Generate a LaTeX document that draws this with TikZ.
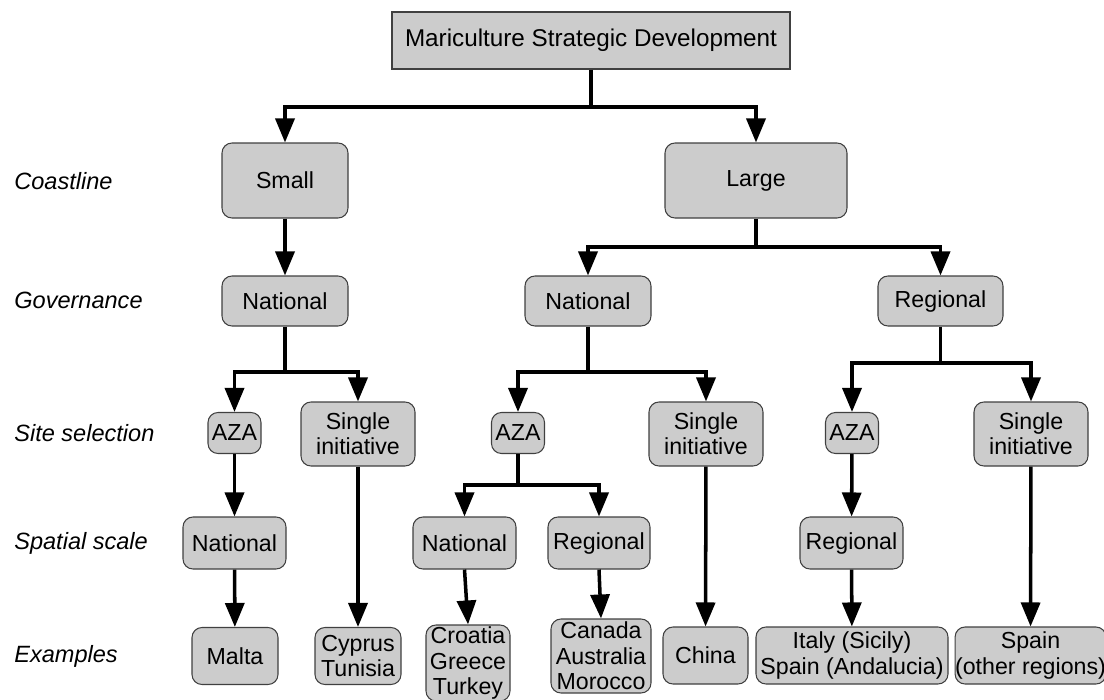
\documentclass[tikz,border=0pt]{standalone}
\usepackage{fontspec}
\setmainfont{Liberation Sans}
\usetikzlibrary{arrows.meta}

\begin{document}
\begin{tikzpicture}[font=\fontsize{13.2}{14.4}\selectfont,
  box/.style={draw=black!75,fill=black!20,line width=0.6pt,
    rounded corners=0.2cm,align=center,inner sep=0pt},
  topbox/.style={box,rounded corners=0pt,line width=0.8pt},
  arr/.style={line width=2pt,-{Triangle[width=0.38cm,length=0.48cm]}},
  lbl/.style={anchor=west,inner sep=0pt,font=\fontsize{13.4}{15}\selectfont\itshape}]
\useasboundingbox (0,0) rectangle (22.08,-14);
% row labels
\node[lbl] (lcoast) at (0.28,-3.62) {Coastline};
\node[lbl] (lgov)   at (0.28,-6.00) {Governance};
\node[lbl] (lsite)  at (0.28,-8.66) {Site selection};
\node[lbl] (lscale) at (0.28,-10.86) {Spatial scale};
\node[lbl] (lex)    at (0.28,-13.12) {Examples};
% boxes
\node[topbox,minimum width=7.96cm,minimum height=1.14cm,
      font=\fontsize{13.8}{15}\selectfont] (msd) at (11.82,-0.81)
     {Mariculture Strategic Development};
\node[box,minimum width=2.52cm,minimum height=1.5cm] (small) at (5.70,-3.61) {Small};
\node[box,minimum width=3.64cm,minimum height=1.5cm] (large) at (15.12,-3.61) {Large};
\node[box,minimum width=2.52cm,minimum height=1cm] (gnat1) at (5.70,-6.02) {National};
\node[box,minimum width=2.52cm,minimum height=1cm] (gnat2) at (11.76,-6.02) {National};
\node[box,minimum width=2.50cm,minimum height=1cm] (greg) at (18.81,-6.02) {Regional};
\node[box,minimum width=1.06cm,minimum height=0.82cm] (aza1) at (4.69,-8.66) {AZA};
\node[box,minimum width=2.28cm,minimum height=1.28cm] (single1) at (7.16,-8.68) {Single\\initiative};
\node[box,minimum width=1.06cm,minimum height=0.82cm] (aza2) at (10.36,-8.66) {AZA};
\node[box,minimum width=2.28cm,minimum height=1.28cm] (single2) at (14.12,-8.68) {Single\\initiative};
\node[box,minimum width=1.06cm,minimum height=0.82cm] (aza3) at (17.04,-8.66) {AZA};
\node[box,minimum width=2.28cm,minimum height=1.28cm] (single3) at (20.62,-8.68) {Single\\initiative};
\node[box,minimum width=2.06cm,minimum height=1.04cm] (snat1) at (4.69,-10.86) {National};
\node[box,minimum width=2.06cm,minimum height=1.04cm] (snat2) at (9.29,-10.86) {National};
\node[box,minimum width=2.04cm,minimum height=1.04cm] (sreg1) at (11.98,-10.86) {Regional};
\node[box,minimum width=2.06cm,minimum height=1.04cm] (sreg2) at (17.03,-10.86) {Regional};
\node[box,minimum width=1.72cm,minimum height=1.14cm] (malta) at (4.70,-13.12) {Malta};
\node[box,minimum width=1.72cm,minimum height=1.14cm] (cyprus) at (7.16,-13.12) {Cyprus\\Tunisia};
\node[box,minimum width=1.68cm,minimum height=1.52cm] (croatia) at (9.36,-13.26) {Croatia\\Greece\\Turkey};
\node[box,minimum width=2.00cm,minimum height=1.48cm] (canada) at (12.02,-13.12) {Canada\\Australia\\Morocco};
\node[box,minimum width=1.70cm,minimum height=1.14cm] (china) at (14.11,-13.11) {China};
\node[box,minimum width=3.84cm,minimum height=1.14cm] (italy) at (17.04,-13.11) {Italy (Sicily)\\Spain (Andalucia)};
\node[box,minimum width=2.90cm,minimum height=1.14cm] (spain) at (20.61,-13.11) {Spain\\(other regions)};
% branch points
\coordinate (b0) at (11.82,-2.14);
\coordinate (b1) at (15.12,-4.94);
\coordinate (b2) at (5.70,-7.44);
\coordinate (b3) at (11.76,-7.44);
\coordinate (b4) at (18.81,-7.26);
\coordinate (b5) at (10.36,-9.70);
% connectors
\draw[arr] (msd) -- (b0) -| (small);
\draw[arr] (b0) -| (large);
\draw[arr] (small) -- (gnat1);
\draw[arr] (large) -- (b1) -| (gnat2);
\draw[arr] (b1) -| (greg);
\draw[arr] (gnat1) -- (b2) -| (aza1);
\draw[arr] (b2) -| (single1);
\draw[arr] (gnat2) -- (b3) -| (aza2);
\draw[arr] (b3) -| (single2);
\draw[arr] (greg) -- (b4) -| (aza3);
\draw[arr] (b4) -| (single3);
\draw[arr] (aza1) -- (snat1);
\draw[arr] (aza2) -- (b5) -| (snat2);
\draw[arr] (b5) -| (sreg1);
\draw[arr] (aza3) -- (sreg2);
\draw[arr] (snat1) -- (malta);
\draw[arr] (single1) -- (cyprus);
\draw[arr] (snat2.south) -- (croatia.north);
\draw[arr] (sreg1.south) -- (canada.north);
\draw[arr] (single2) -- (china);
\draw[arr] (sreg2) -- (italy);
\draw[arr] (single3) -- (spain);
\end{tikzpicture}
\end{document}
